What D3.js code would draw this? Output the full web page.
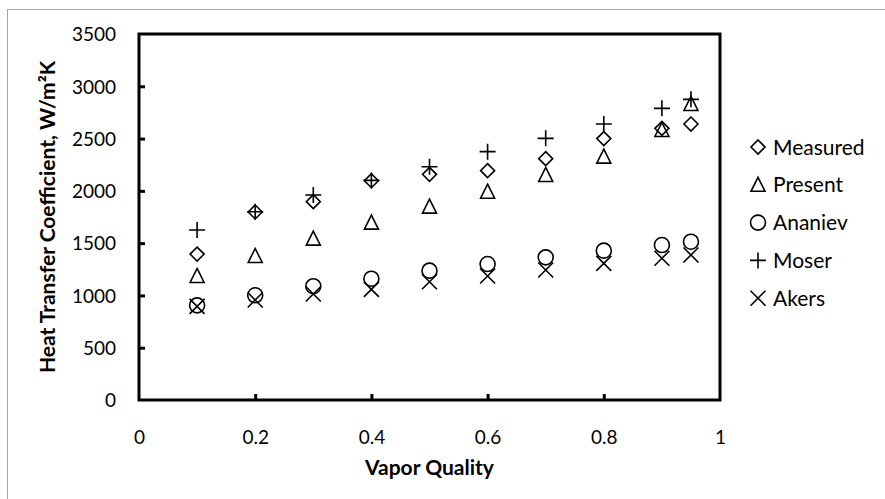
<!DOCTYPE html>
<html>
<head>
<meta charset="utf-8">
<script src="https://cdn.jsdelivr.net/npm/d3@7"></script>
<style>
  html, body { margin: 0; padding: 0; background: #fff; }
  svg { display: block; }
  text { font-family: Lato, "Open Sans", sans-serif; fill: #000; }
</style>
</head>
<body>
<svg id="chart" width="885" height="499"></svg>
<script>
// ---- data ----
const quality = [0.1, 0.2, 0.3, 0.4, 0.5, 0.6, 0.7, 0.8, 0.9, 0.95];
const measured = [1395, 1798, 1897, 2097, 2158, 2193, 2308, 2500, 2598, 2639];
const present  = [1186, 1377, 1543, 1696, 1849, 1992, 2152, 2327, 2582, 2831];
const ananiev  = [905, 1001, 1088, 1160, 1237, 1300, 1364, 1428, 1482, 1514];
const moser    = [1626, 1800, 1960, 2100, 2231, 2375, 2502, 2639, 2789, 2875];
const akers    = [895, 956, 1014, 1058, 1131, 1186, 1243, 1307, 1355, 1387];
const seriesNames = ["Measured", "Present", "Ananiev", "Moser", "Akers"];
const xTicks = [0, 0.2, 0.4, 0.6, 0.8, 1];
const yTicks = [0, 500, 1000, 1500, 2000, 2500, 3000, 3500];

const series = [
  { name: "Measured", values: measured, shape: "diamond" },
  { name: "Present",  values: present,  shape: "triangle" },
  { name: "Ananiev",  values: ananiev,  shape: "circle" },
  { name: "Moser",    values: moser,    shape: "plus" },
  { name: "Akers",    values: akers,    shape: "x" }
];

// ---- layout ----
const svg = d3.select("#chart");
const plot = { left: 139, right: 720, top: 34, bottom: 400 };

const x = d3.scaleLinear().domain([0, 1]).range([plot.left, plot.right]);
const y = d3.scaleLinear().domain([0, 3500]).range([plot.bottom, plot.top]);

// outer chart border
svg.append("rect")
  .attr("x", 7.5).attr("y", 9.5)
  .attr("width", 900).attr("height", 520)
  .attr("fill", "none").attr("stroke", "#a6a6a6").attr("stroke-width", 1);

// shapes
function shapePath(shape) {
  switch (shape) {
    case "diamond": { const r = 7; return `M0,${-r}L${r},0L0,${r}L${-r},0Z`; }
    case "triangle": { const w = 7, h = 13; return `M0,${-h/2 - 1}L${w},${h/2}L${-w},${h/2}Z`; }
    case "circle": { const r = 7.5; return `M${r},0A${r},${r} 0 1,1 ${-r},0A${r},${r} 0 1,1 ${r},0Z`; }
    case "plus": { const r = 8; return `M${-r},0L${r},0M0,${-r}L0,${r}`; }
    case "x": { const r = 7.5; return `M${-r},${-r}L${r},${r}M${-r},${r}L${r},${-r}`; }
  }
}

// axes (ticks inward)
const yAxis = d3.axisLeft(y).tickValues(yTicks).tickSize(-6).tickPadding(23).tickFormat(d3.format("d"));
const xAxis = d3.axisBottom(x).tickValues(xTicks).tickSize(-6).tickPadding(37).tickFormat(d => d === 0 || d === 1 ? String(d) : d3.format(".1f")(d));

const gy = svg.append("g").attr("transform", `translate(${plot.left},0)`).call(yAxis);
const gx = svg.append("g").attr("transform", `translate(0,${plot.bottom})`).call(xAxis);
[gx, gy].forEach(g => {
  g.select(".domain").remove();
  g.selectAll(".tick line").attr("stroke", "#000").attr("stroke-width", 3);
  g.selectAll(".tick text").style("font-size", "19px").attr("fill", "#000");
});
gy.selectAll(".tick text").attr("dy", "0.36em");
gx.selectAll(".tick text").attr("dy", "0.35em");
gy.selectAll(".tick").filter(d => d === 0 || d === 3500).select("line").remove();
gx.selectAll(".tick").filter(d => d === 0 || d === 1).select("line").remove();

// plot frame
svg.append("rect")
  .attr("x", plot.left).attr("y", plot.top)
  .attr("width", plot.right - plot.left).attr("height", plot.bottom - plot.top)
  .attr("fill", "none").attr("stroke", "#000").attr("stroke-width", 3);

// markers
const gm = svg.append("g");
series.forEach(s => {
  gm.selectAll(null).data(quality.map((q, i) => [q, s.values[i]]))
    .enter().append("path")
    .attr("transform", d => `translate(${x(d[0])},${y(d[1])})`)
    .attr("d", shapePath(s.shape))
    .attr("fill", "none").attr("stroke", "#000").attr("stroke-width", 1.6);
});

// axis titles
svg.append("text")
  .attr("x", (plot.left + plot.right) / 2).attr("y", 475)
  .attr("text-anchor", "middle")
  .style("font-size", "21px").style("font-weight", "bold")
  .text("Vapor Quality");

svg.append("text")
  .attr("transform", `translate(55,${(plot.top + plot.bottom) / 2}) rotate(-90)`)
  .attr("text-anchor", "middle")
  .style("font-size", "21px").style("font-weight", "bold")
  .text("Heat Transfer Coefficient, W/m²K");

// legend
const legend = svg.append("g");
series.forEach((s, i) => {
  const cy = 147 + i * 37.8;
  legend.append("path")
    .attr("transform", `translate(758,${cy})`)
    .attr("d", shapePath(s.shape))
    .attr("fill", "none").attr("stroke", "#000").attr("stroke-width", 1.6);
  legend.append("text")
    .attr("x", 773).attr("y", cy).attr("dy", "0.36em")
    .style("font-size", "21px")
    .text(seriesNames[i]);
});
</script>
</body>
</html>
